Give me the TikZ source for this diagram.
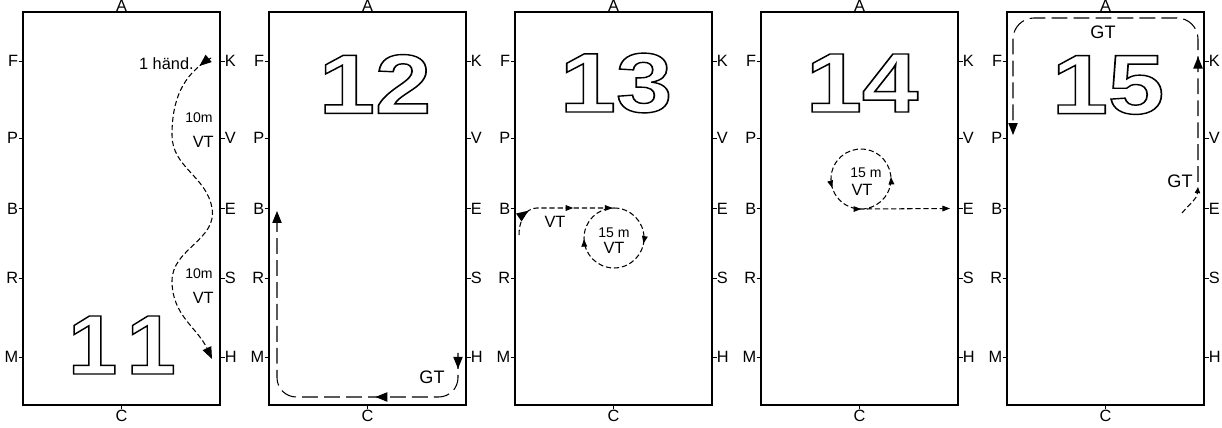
\documentclass[tikz,border=0pt]{standalone}
\usepackage{fontspec}
\setmainfont{Liberation Sans}
\usepackage{tikz}
\usetikzlibrary{arrows.meta,decorations.markings}

% hollow (stroked) digits
\newcommand{\hollow}[2][1.2]{\scalebox{#1}[1]{\special{pdf:literal direct 1 Tr 0.8 w}#2\special{pdf:literal direct 0 Tr}}}

\begin{document}
\begin{tikzpicture}[
    x=0.02cm, y=0.02cm,
    >={Triangle[length=6.8pt, width=5.3pt]},
    tri/.tip={Triangle[length=4.3pt, width=3.2pt]},
    frame/.style={draw, line width=0.75pt},
    tick/.style={line width=0.5pt},
    letter/.style={inner sep=0pt, font=\fontsize{9.3}{10}\selectfont},
    small/.style={inner sep=0pt, font=\fontsize{8}{9}\selectfont},
    gt/.style={inner sep=0pt, font=\fontsize{10.3}{11}\selectfont},
    bignum/.style={inner sep=0pt, font=\fontsize{48}{48}\selectfont\bfseries},
    shortdash/.style={line width=0.6pt, dash pattern=on 3pt off 1.6pt},
    longdash/.style={line width=0.6pt, dash pattern=on 9pt off 3.5pt}
]
\useasboundingbox (0,0) rectangle (1222,428);

% Arenas with their letters
\foreach \i/\x in {1/23, 2/269, 3/515, 4/761, 5/1007}{
  \begin{scope}[shift={(\x,23)}]
    \draw[frame] (0,0) rectangle (197,393);
    \node[letter, anchor=base] (A\i) at (98.5,393.5) {A};
    \node[letter, anchor=north] (C\i) at (98.5,-4.5) {C};
    \draw[tick] (98.5,0) -- (C\i.north);
    \foreach \l/\r/\y in {F/K/344, P/V/267, B/E/196.5, R/S/127, M/H/48}{
      \node[letter, anchor=east] (\l\i) at (-4.5,\y) {\l};
      \node[letter, anchor=west] (\r\i) at (201.5,\y) {\r};
      \draw[tick] (\l\i.east) -- (0,\y);
      \draw[tick] (197,\y) -- (\r\i.west);
    }
  \end{scope}
}

% 11 - serpentine K to H
\begin{scope}[shift={(23,23)}]
  \node[bignum] (n11) at (99,60) {\hollow[1.05]{1\kern5pt1}};
  \draw[shortdash, ->, decoration={markings, mark=at position 0.04 with {\arrow{>}}}, postaction={decorate}]
    (188,347) to[out=-150,in=90] (149,270) to[out=-90,in=100] (189,197)
    to[out=-80,in=90] (149,124) to[out=-90,in=115] (189,46);
  \node[letter, anchor=east] (hand) at (171,341) {1 händ.};
  \node[small, anchor=east] (ten1) at (190,287) {10m};
  \node[letter, anchor=east] (vt1) at (191,263) {VT};
  \node[small, anchor=east] (ten2) at (190,131) {10m};
  \node[letter, anchor=east] (vt2) at (191,107) {VT};
\end{scope}

% 12 - whole track H to B
\begin{scope}[shift={(269,23)}]
  \node[bignum] (n12) at (106,321) {\hollow{12}};
  \draw[longdash, ->, rounded corners=11pt,
    decoration={markings, mark=at position 0.04 with {\arrow{>}}, mark=at position 0.3 with {\arrow{>}}}, postaction={decorate}]
    (189,52) -- (189,8) -- (8,8) -- (8,194);
  \node[gt] (gt2) at (163,28) {GT};
\end{scope}

% 13 - B, volte
\begin{scope}[shift={(515,23)}]
  \node[bignum] (n13) at (101,322) {\hollow{13}};
  \draw[shortdash,
    decoration={markings, mark=at position 0.09 with {\arrow{>}}, mark=at position 0.24 with {\arrow{tri}},
      mark=at position 0.37 with {\arrow{tri}}, mark=at position 0.55 with {\arrow{tri}}, mark=at position 0.84 with {\arrow{tri}}},
    postaction={decorate}]
    (4,170) to[out=90,in=180] (22,197) -- (99,197) arc[start angle=90, end angle=-270, radius=30];
  \node[letter] (vt3) at (40,183) {VT};
  \node[small] (m3) at (99,172) {15 m};
  \node[letter] (vt3b) at (99,157) {VT};
\end{scope}

% 14 - volte, to E
\begin{scope}[shift={(761,23)}]
  \node[bignum] (n14) at (101,322) {\hollow{14}};
  \draw[shortdash, -tri,
    decoration={markings, mark=at position 0.028 with {\arrow{tri}}, mark=at position 0.2 with {\arrow{tri}},
      mark=at position 0.555 with {\arrow{tri}}},
    postaction={decorate}]
    (92.2,197) arc[start angle=-105, end angle=270, radius=30] -- (189,196.5);
  \node[small] (m4) at (105,232) {15 m};
  \node[letter] (vt4) at (101,215) {VT};
\end{scope}

% 15 - whole track E to P
\begin{scope}[shift={(1007,23)}]
  \node[bignum] (n15) at (101,320) {\hollow{15}};
  \draw[shortdash, -{Triangle[length=3.5pt, width=3pt]}] (175,192) to[out=50,in=-95] (191,218);
  \draw[longdash, ->, rounded corners=12pt,
    decoration={markings, mark=at position 0.28 with {\arrow{>}}}, postaction={decorate}]
    (191,223) -- (191,387) -- (6,387) -- (6,270);
  \node[gt] (gt5a) at (96,373) {GT};
  \node[gt] (gt5b) at (173,224) {GT};
\end{scope}

\end{tikzpicture}
\end{document}
